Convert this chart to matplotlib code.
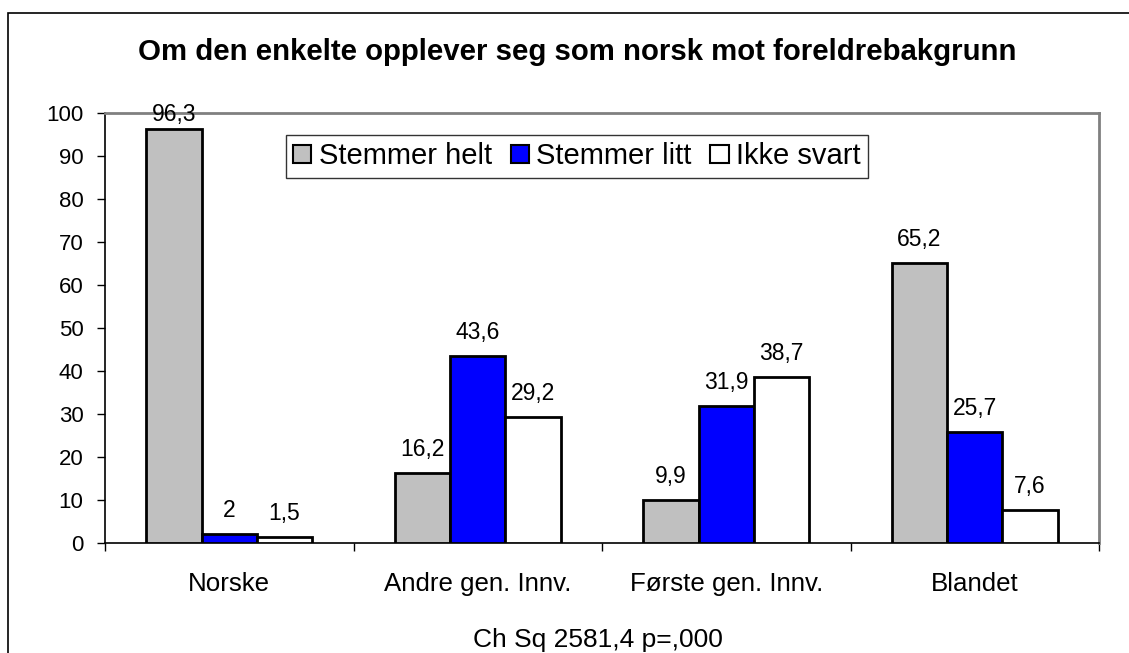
import matplotlib
matplotlib.use("Agg")
import matplotlib.pyplot as plt
import matplotlib.patches as mpatches
import numpy as np

categories = ["Norske", "Andre gen. Innv.", "Første gen. Innv.", "Blandet"]
series_names = ["Stemmer helt", "Stemmer litt", "Ikke svart"]
stemmer_helt = [96.3, 16.2, 9.9, 65.2]
stemmer_litt = [2, 43.6, 31.9, 25.7]
ikke_svart = [1.5, 29.2, 38.7, 7.6]
colors = ["#C0C0C0", "#0000FF", "#FFFFFF"]
title = "Om den enkelte opplever seg som norsk mot foreldrebakgrunn"
xlabel = "Ch Sq 2581,4 p=,000"
yticks = [0, 10, 20, 30, 40, 50, 60, 70, 80, 90, 100]

plt.rcParams['font.family'] = ['Liberation Sans', 'DejaVu Sans']

W, H = 1129, 653
fig = plt.figure(figsize=(W / 100, H / 100), dpi=100)
ax_top_px, ax_bot_px = 113, 543
ax = fig.add_axes([105 / W, 1 - ax_bot_px / H, (1099 - 105) / W, (ax_bot_px - ax_top_px) / H])

x = np.arange(len(categories))
bw = 1 / 4.5
ymax = 100
px_per_unit = (ax_bot_px - ax_top_px) / ymax
data = [stemmer_helt, stemmer_litt, ikke_svart]
for i, (vals, c, name) in enumerate(zip(data, colors, series_names)):
    xs = x + (i - 1) * bw
    ax.bar(xs, vals, width=bw, color=c, edgecolor="black",
           linewidth=2, label=name, zorder=3)
    for xi, v in zip(xs, vals):
        lab = ("%g" % v).replace(".", ",")
        # label baseline ~17 px above bar, kept inside the plot area like Excel
        y_lab = min(v + 17 / px_per_unit, ymax - 8 / px_per_unit)
        ax.text(xi, y_lab, lab, ha="center", va="baseline", fontsize=16.5,
                color="black", zorder=4)

ax.set_xlim(-0.5, len(categories) - 0.5)
ax.set_ylim(0, ymax)
ax.set_yticks(yticks)
ax.set_yticklabels([str(t) for t in yticks], fontsize=16)
ax.tick_params(axis="y", direction="out", length=6, width=1, pad=9.5)

ax.set_xticks(x)
ax.set_xticklabels(categories, fontsize=18.6)
ax.tick_params(axis="x", which="major", length=0, pad=21)
ax.set_xticks(np.arange(-0.5, len(categories)), minor=True)
ax.tick_params(axis="x", which="minor", direction="out", length=6, width=1)
ax.set_xlabel(xlabel, fontsize=19)
ax.xaxis.set_label_coords((597.5 - 105) / 994, -(640 - ax_bot_px) / (ax_bot_px - ax_top_px))
ax.xaxis.label.set_verticalalignment("center")

for s in ["top", "right"]:
    ax.spines[s].set_color("#808080")
    ax.spines[s].set_linewidth(2)
for s in ["left", "bottom"]:
    ax.spines[s].set_color("black")
    ax.spines[s].set_linewidth(1.2)

fig.text(577 / W, 1 - 52 / H, title, ha="center", va="center",
         fontsize=21.2, fontweight="bold")

leg = fig.legend(loc="upper left", bbox_to_anchor=(286 / W, 1 - 135 / H),
                 ncol=3, fontsize=21, frameon=True, fancybox=False,
                 handlelength=0.62, handleheight=0.62, handletextpad=0.25,
                 columnspacing=0.65, borderpad=0.25, borderaxespad=0)
leg.get_frame().set_edgecolor("black")
leg.get_frame().set_linewidth(1)
for h in leg.legend_handles:
    h.set_linewidth(1.5)

border = mpatches.Rectangle((8 / W, -0.1), 1.2, (H - 13) / H + 0.1,
                            transform=fig.transFigure, fill=False,
                            edgecolor="black", linewidth=1.2, clip_on=False)
fig.patches.append(border)

fig.savefig("out.png", dpi=100)
